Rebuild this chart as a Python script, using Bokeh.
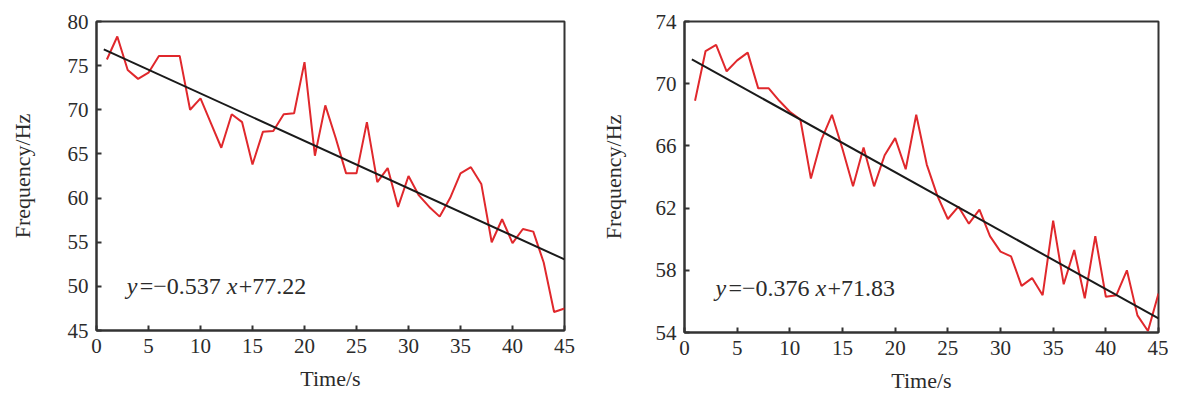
from bokeh.plotting import figure
from bokeh.layouts import row
from bokeh.models import Range1d, FixedTicker, Label
from bokeh.embed import file_html
from bokeh.resources import INLINE

# ---------------- data ----------------
time_s = list(range(1, 46))

freq_left = [75.7, 78.3, 74.5, 73.5, 74.2, 76.1, 76.1, 76.1, 70.0, 71.3,
             68.5, 65.7, 69.5, 68.6, 63.8, 67.5, 67.6, 69.5, 69.6, 75.4,
             64.8, 70.5, 66.8, 62.8, 62.8, 68.6, 61.8, 63.4, 59.0, 62.5,
             60.3, 59.0, 57.9, 60.0, 62.8, 63.5, 61.6, 55.0, 57.6, 54.9,
             56.5, 56.2, 52.7, 47.1, 47.5]

freq_right = [68.9, 72.1, 72.5, 70.8, 71.5, 72.0, 69.7, 69.7, 68.9, 68.2,
              67.7, 63.9, 66.4, 68.0, 65.8, 63.4, 65.9, 63.4, 65.4, 66.5,
              64.5, 68.0, 64.8, 62.8, 61.3, 62.1, 61.0, 61.9, 60.2, 59.2,
              58.9, 57.0, 57.5, 56.4, 61.2, 57.1, 59.3, 56.2, 60.2, 56.3,
              56.4, 58.0, 55.1, 54.1, 56.5]

slope_left, icpt_left = -0.537, 77.22
slope_right, icpt_right = -0.376, 71.83
fit_start = 0.7

x_ticks = [0, 5, 10, 15, 20, 25, 30, 35, 40, 45]
y_ticks_left = [45, 50, 55, 60, 65, 70, 75, 80]
y_ticks_right = [54, 58, 62, 66, 70, 74]

eq_left = ["y", "=\u22120.537", "x", "+77.22"]
eq_right = ["y", "=\u22120.376", "x", "+71.83"]

FONT = "'Liberation Serif', 'Times New Roman', serif"
TXT = "#2b2b2b"
FRAME = "#333333"
RED = "#e0282c"


def make_fig(freqs, slope, icpt, y_lo, y_hi, y_ticks, eq, eq_x, eq_y,
             frame_w, frame_h, bl, br, bt, bb, ylab_off):
    p = figure(frame_width=frame_w, frame_height=frame_h,
               min_border_left=bl, min_border_right=br,
               min_border_top=bt, min_border_bottom=bb,
               x_range=Range1d(0, 45), y_range=Range1d(y_lo, y_hi),
               output_backend="svg", toolbar_location=None,
               background_fill_color="white", border_fill_color="white")
    p.grid.visible = False
    p.outline_line_color = FRAME
    p.outline_line_width = 2
    p.outline_line_alpha = 1.0

    for ax in (p.xaxis[0], p.yaxis[0]):
        ax.axis_line_color = FRAME
        ax.axis_line_width = 2
        ax.major_tick_line_color = FRAME
        ax.major_tick_line_width = 2
        ax.major_tick_in = 5
        ax.major_tick_out = 0
        ax.minor_tick_line_color = None
        ax.major_label_text_font = FONT
        ax.major_label_text_font_size = "21px"
        ax.major_label_text_color = TXT
        ax.axis_label_text_font = FONT
        ax.axis_label_text_font_size = "22px"
        ax.axis_label_text_font_style = "normal"
        ax.axis_label_text_color = TXT
        ax.major_label_standoff = 8

    p.xaxis.ticker = FixedTicker(ticks=x_ticks)
    p.yaxis.ticker = FixedTicker(ticks=y_ticks)
    p.xaxis.axis_label = "Time/s"
    p.yaxis.axis_label = "Frequency/Hz"
    p.xaxis.axis_label_standoff = 10
    p.yaxis.axis_label_standoff = ylab_off

    p.line(time_s, freqs, line_color=RED, line_width=2)
    fx = [fit_start, time_s[-1]]
    fy = [slope * v + icpt for v in fx]
    p.line(fx, fy, line_color="#1a1a1a", line_width=2)

    offsets = [0, 13, 100, 112]
    styles = ["italic", "normal", "italic", "normal"]
    for txt, off, st in zip(eq, offsets, styles):
        p.add_layout(Label(x=eq_x, y=eq_y, text=txt, x_offset=off,
                           text_font=FONT, text_font_size="24px",
                           text_font_style=st, text_color=TXT,
                           text_baseline="middle", text_align="left"))
    return p


left = make_fig(freq_left, slope_left, icpt_left, 45, 80, y_ticks_left,
                eq_left, 2.9, 50.0, 468, 309, 96, 30, 18, 55, 30)
right = make_fig(freq_right, slope_right, icpt_right, 54, 74, y_ticks_right,
                 eq_right, 2.94, 56.83, 474, 311, 90, 10, 21, 50, 27)

layout = row(left, right)
open("out.html", "w").write(file_html(layout, INLINE))
